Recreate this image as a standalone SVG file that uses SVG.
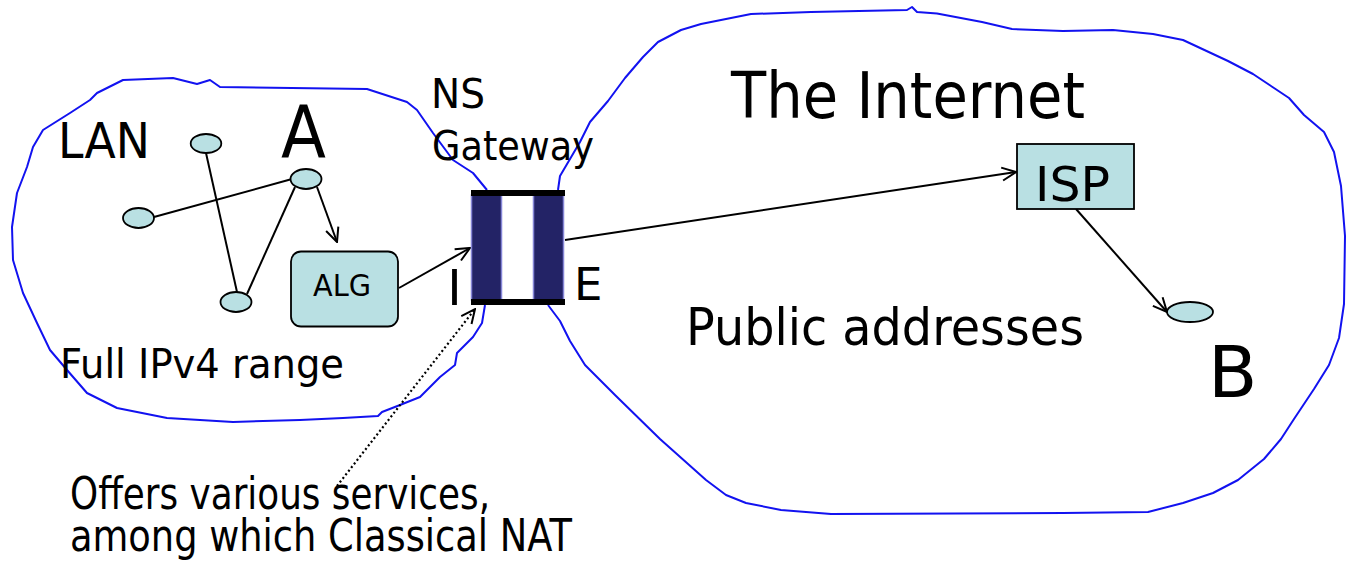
<svg xmlns="http://www.w3.org/2000/svg" width="1348" height="566" viewBox="0 0 1348 566">
<style>
.blob{fill:none;stroke:#1212f0;stroke-width:2;stroke-linejoin:round}
.node{fill:#b9e0e3;stroke:#000;stroke-width:1.8}
.edge{fill:none;stroke:#000;stroke-width:2}
.dot{fill:none;stroke:#000;stroke-width:2.2;stroke-dasharray:2 2.6}
.col{fill:#232366;stroke:#8585d6;stroke-width:1.5}
.bar{fill:#000}
text{font-family:"DejaVu Sans","Liberation Sans",sans-serif;fill:#000}
</style>
<defs>
<marker id="arr" viewBox="0 0 16 16" refX="15" refY="8" markerWidth="16" markerHeight="16" markerUnits="userSpaceOnUse" orient="auto">
<path d="M1,1.5 L15,8 L1,14.5" fill="none" stroke="#000" stroke-width="2" stroke-dasharray="none"/>
</marker>
</defs>

<g id="lan-cloud">
<path class="blob" d="M487,190 L473,173 L453,160 L433,133 L417,110 L407,102 L367,89 L220,87 L210,80 L197,84 L173,78 L123,80 L97,93 L90,100 L70,113 L43,130 L33,147 L27,167 L17,193 L12,227 L13,260 L23,293 L37,323 L50,350 L67,370 L87,393 L117,408 L167,418 L233,422 L300,420 L343,418 L378,416 L382,412 L400,405 L420,397 L440,377 L455,365 L457,353 L473,337 L482,323 L485,305"/>
</g>

<g id="internet-cloud">
<path class="blob" d="M558,190 L560,176 L580,142 L590,122 L608,101 L625,78 L643,57 L658,42 L681,30 L701,24 L726,19 L751,14 L811,12 L907,10 L912,7 L917,12 L937,13.5 L982,22 L1012,29 L1063,31 L1113,30 L1153,34 L1183,40 L1213,54 L1228,61 L1253,74 L1274,88 L1289,98 L1304,115 L1324,132 L1334,152 L1341,186 L1345,236 L1344,304 L1339,338 L1329,365 L1314,389 L1294,419 L1281,439 L1264,459 L1238,480 L1213,493 L1183,503 L1148,512 L1063,513 L831,514 L781,510 L746,503 L726,495 L706,480 L660,439 L615,395 L585,365 L570,341 L560,321 L548,305"/>
</g>

<g id="connectors">
<line class="edge" x1="154" y1="217" x2="292" y2="179"/>
<line class="edge" x1="206" y1="153" x2="237" y2="292"/>
<line class="edge" x1="295" y1="187" x2="247" y2="294"/>
<line class="edge" x1="317" y1="187" x2="337" y2="242" marker-end="url(#arr)"/>
<line class="edge" x1="399" y1="288" x2="470" y2="248" marker-end="url(#arr)"/>
<line class="edge" x1="565" y1="240" x2="1016" y2="172" marker-end="url(#arr)"/>
<line class="edge" x1="1076" y1="209" x2="1167" y2="312" marker-end="url(#arr)"/>
<line class="dot" x1="337" y1="486" x2="475" y2="309" marker-end="url(#arr)"/>
</g>

<g id="lan-label"><text x="58" y="158" font-size="50" textLength="92" lengthAdjust="spacingAndGlyphs">LAN</text></g>
<g id="full-range-label"><text x="60" y="378" font-size="41" textLength="284" lengthAdjust="spacingAndGlyphs">Full IPv4 range</text></g>

<g id="node-top"><ellipse class="node" cx="206" cy="143.5" rx="15.3" ry="9.5"/></g>
<g id="node-a"><ellipse class="node" cx="306" cy="179" rx="15.5" ry="10"/>
<text x="281" y="158" font-size="73" textLength="45" lengthAdjust="spacingAndGlyphs">A</text></g>
<g id="node-left"><ellipse class="node" cx="138.5" cy="218" rx="15.5" ry="10"/></g>
<g id="node-bottom"><ellipse class="node" cx="236" cy="302" rx="15.5" ry="10"/></g>

<g id="alg"><rect class="node" x="291" y="251.5" width="107" height="75" rx="10"/>
<text x="313" y="296" font-size="31" textLength="58" lengthAdjust="spacingAndGlyphs">ALG</text></g>

<g id="gateway">
<rect class="col" x="471.5" y="195" width="30" height="105"/>
<rect class="col" x="533.5" y="195" width="30" height="105"/>
<rect class="bar" x="471" y="190" width="94" height="6"/>
<rect class="bar" x="471" y="299" width="94" height="6"/>
<text x="431" y="108" font-size="41" textLength="54" lengthAdjust="spacingAndGlyphs">NS</text>
<text x="432" y="160" font-size="41" textLength="162" lengthAdjust="spacingAndGlyphs">Gateway</text>
<text x="454.5" y="305" font-size="49" text-anchor="middle">I</text>
<text x="574" y="300" font-size="45">E</text>
</g>

<g id="internet-labels">
<text x="731" y="118" font-size="64" textLength="354" lengthAdjust="spacingAndGlyphs">The Internet</text>
<text x="686" y="345" font-size="52" textLength="398" lengthAdjust="spacingAndGlyphs">Public addresses</text>
</g>

<g id="isp"><rect class="node" x="1017" y="144" width="117" height="65"/>
<text x="1035" y="201" font-size="48" textLength="75" lengthAdjust="spacingAndGlyphs">ISP</text></g>

<g id="node-b"><ellipse class="node" cx="1190" cy="312" rx="23" ry="10"/>
<text x="1208" y="397" font-size="72">B</text></g>

<g id="note">
<text x="70" y="509" font-size="45" textLength="420" lengthAdjust="spacingAndGlyphs">Offers various services,</text>
<text x="70" y="551" font-size="45" textLength="502" lengthAdjust="spacingAndGlyphs">among which Classical NAT</text>
</g>
</svg>
